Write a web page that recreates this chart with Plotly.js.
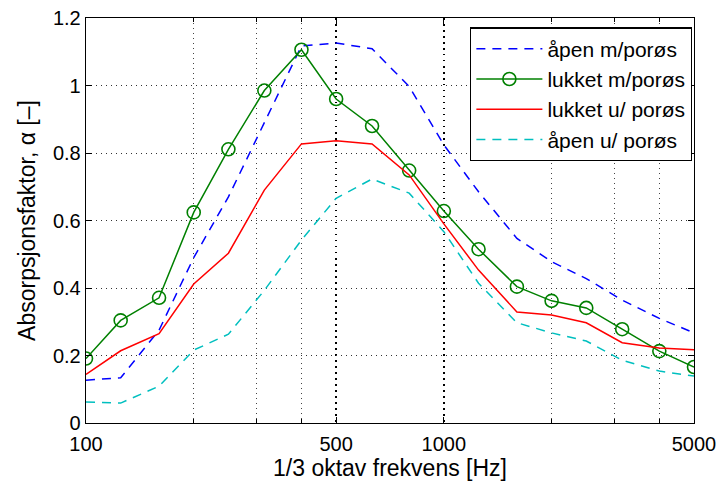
<!DOCTYPE html>
<html>
<head>
<meta charset="utf-8">
<script src="https://cdn.plot.ly/plotly-3.0.1.min.js"></script>
<style>html,body{margin:0;padding:0;background:#fff;}#chart{width:720px;height:485px;}</style>
</head>
<body>
<div id="chart"></div>
<script>
// 1/3 octave band centre frequencies [Hz]
const frequencies = [100,125,160,200,250,315,400,500,630,800,1000,1250,1600,2000,2500,3150,4000,5000];
// Absorption coefficients
const apenMedPoros    = [0.127,0.134,0.275,0.49,0.67,0.89,1.117,1.126,1.109,0.997,0.824,0.685,0.547,0.478,0.428,0.364,0.310,0.267];
const lukketMedPoros  = [0.191,0.304,0.371,0.624,0.811,0.985,1.106,0.960,0.880,0.748,0.628,0.515,0.404,0.362,0.341,0.278,0.213,0.166];
const lukketUtenPoros = [0.144,0.214,0.265,0.412,0.503,0.690,0.827,0.836,0.827,0.735,0.590,0.453,0.329,0.320,0.297,0.238,0.222,0.217];
const apenUtenPoros   = [0.062,0.059,0.109,0.216,0.263,0.393,0.542,0.666,0.723,0.681,0.567,0.414,0.297,0.267,0.243,0.186,0.154,0.139];
const seriesNames = ['åpen m/porøs','lukket m/porøs','lukket u/ porøs','åpen u/ porøs'];
// Axis ticks
const xMajorTicks = [100,500,1000,5000];
const xMajorLabels = ['100','500','1000','5000'];
const xMinorTicks = [200,300,400,2000,3000,4000];
const yTicks = [0,0.2,0.4,0.6,0.8,1,1.2];
const yLabels = ['0','0.2','0.4','0.6','0.8','1','1.2'];

const FONT = 'Liberation Sans, Arial, Helvetica, sans-serif';

const traces = [
  {x: frequencies, y: apenMedPoros, name: seriesNames[0], mode: 'lines',
   line: {color: '#0000ff', width: 1.5, dash: '9px,7px'}},
  {x: frequencies, y: lukketMedPoros, name: seriesNames[1], mode: 'lines+markers',
   line: {color: '#008000', width: 1.5},
   marker: {symbol: 'circle-open', size: 13, color: '#008000', line: {width: 1.6, color: '#008000'}}},
  {x: frequencies, y: lukketUtenPoros, name: seriesNames[2], mode: 'lines',
   line: {color: '#ff0000', width: 1.5}},
  {x: frequencies, y: apenUtenPoros, name: seriesNames[3], mode: 'lines',
   line: {color: '#00bfbf', width: 1.5, dash: '9px,7px'}}
];

const layout = {
  width: 720, height: 485,
  margin: {l: 86, r: 26, t: 18, b: 62, pad: 0},
  paper_bgcolor: '#ffffff', plot_bgcolor: '#ffffff',
  font: {family: FONT, size: 20, color: '#000'},
  showlegend: true,
  legend: {x: 0.997, y: 0.977, xanchor: 'right', yanchor: 'top',
    bgcolor: '#ffffff', bordercolor: '#000', borderwidth: 1.2,
    font: {family: FONT, size: 21, color: '#000'},
    itemwidth: 66, tracegroupgap: 0},
  xaxis: {
    type: 'log', range: [2, Math.log10(5000)],
    tickmode: 'array', tickvals: xMajorTicks, ticktext: xMajorLabels,
    ticks: 'inside', ticklen: 6, tickcolor: '#000', tickwidth: 1,
    showline: true, linecolor: '#000', linewidth: 1.3, mirror: 'allticks',
    showgrid: true, gridcolor: '#000', gridwidth: 1.3, griddash: '1.5px,4.5px',
    minor: {tickmode: 'array', tickvals: xMinorTicks, ticks: 'inside', ticklen: 4,
      tickcolor: '#000', showgrid: true, gridcolor: '#444', gridwidth: 1, griddash: '1px,4px'},
    zeroline: false,
    ticklabelstandoff: 3,
    tickfont: {family: FONT, size: 20, color: '#000'},
    title: {text: '1/3 oktav frekvens [Hz]', font: {family: FONT, size: 23, color: '#000'}, standoff: 5}
  },
  yaxis: {
    range: [0, 1.2], tickmode: 'array', tickvals: yTicks, ticktext: yLabels,
    ticks: 'inside', ticklen: 6, tickcolor: '#000', tickwidth: 1,
    showline: true, linecolor: '#000', linewidth: 1.3, mirror: 'allticks',
    showgrid: true, gridcolor: '#333', gridwidth: 1, griddash: '1px,4px',
    zeroline: false,
    tickfont: {family: FONT, size: 20, color: '#000'},
    title: {text: 'Absorpsjonsfaktor, α [–]', font: {family: FONT, size: 23, color: '#000'}, standoff: 10}
  }
};

Plotly.newPlot('chart', traces, layout, {displayModeBar: false, staticPlot: true});
</script>
</body>
</html>
